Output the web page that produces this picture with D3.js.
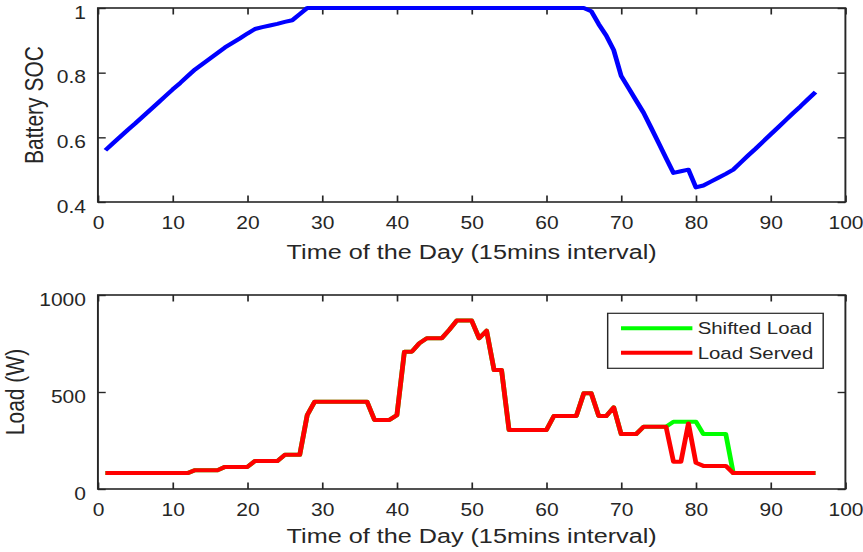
<!DOCTYPE html>
<html>
<head>
<meta charset="utf-8">
<script src="https://cdn.jsdelivr.net/npm/d3@7"></script>
<style>
  body { margin: 0; background: #fff; }
  svg { display: block; }
  text { font-family: "Liberation Sans", Arial, sans-serif; fill: #262626; }
</style>
</head>
<body>
<svg id="chart" width="863" height="552"></svg>
<script>
// time steps (15 min intervals)
let steps = d3.range(1, 97);

// 12 values per row
let soc = [
  0.56, 0.581, 0.602, 0.623, 0.643, 0.664, 0.685, 0.706, 0.727, 0.748, 0.768, 0.789,
  0.81, 0.827, 0.844, 0.861, 0.878, 0.892, 0.906, 0.921, 0.935, 0.941, 0.946, 0.951,
  0.957, 0.962, 0.981, 1, 1, 1, 1, 1, 1, 1, 1, 1,
  1, 1, 1, 1, 1, 1, 1, 1, 1, 1, 1, 1,
  1, 1, 1, 1, 1, 1, 1, 1, 1, 1, 1, 1,
  1, 1, 1, 1, 1, 0.99, 0.95, 0.915, 0.87, 0.79, 0.752, 0.714,
  0.676, 0.63, 0.583, 0.536, 0.49, 0.495, 0.50, 0.445, 0.451, 0.463, 0.475, 0.487,
  0.50, 0.522, 0.544, 0.565, 0.587, 0.609, 0.631, 0.653, 0.675, 0.696, 0.718, 0.74
];

let shiftedLoad = [
  82, 82, 82, 82, 82, 82, 82, 82, 82, 82, 82, 82,
  97, 97, 97, 97, 114, 114, 114, 114, 144, 144, 144, 144,
  176, 176, 176, 381, 450, 450, 450, 450, 450, 450, 450, 450,
  356, 356, 356, 381, 708, 708, 751, 777, 777, 777, 820, 868,
  868, 868, 777, 816, 613, 613, 304, 304, 304, 304, 304, 304,
  376, 376, 376, 376, 493, 493, 376, 376, 421, 283, 283, 283,
  321, 321, 321, 321, 347, 347, 347, 347, 283, 283, 283, 283,
  82, 82, 82, 82, 82, 82, 82, 82, 82, 82, 82, 82
];

let loadServed = [
  82, 82, 82, 82, 82, 82, 82, 82, 82, 82, 82, 82,
  97, 97, 97, 97, 114, 114, 114, 114, 144, 144, 144, 144,
  176, 176, 176, 381, 450, 450, 450, 450, 450, 450, 450, 450,
  356, 356, 356, 381, 708, 708, 751, 777, 777, 777, 820, 868,
  868, 868, 777, 816, 613, 613, 304, 304, 304, 304, 304, 304,
  376, 376, 376, 376, 493, 493, 376, 376, 421, 283, 283, 283,
  321, 321, 321, 321, 141, 141, 338, 135, 119, 119, 119, 119,
  82, 82, 82, 82, 82, 82, 82, 82, 82, 82, 82, 82
];

let xTicks = [0, 10, 20, 30, 40, 50, 60, 70, 80, 90, 100];
let socTicks = [0.4, 0.6, 0.8, 1];
let loadTicks = [0, 500, 1000];
let xLabel = "Time of the Day (15mins interval)";
let legendNames = ["Shifted Load", "Load Served"];

// the reference is stretched horizontally, so draw in a narrower space and stretch
let stretch = 1.2;
let W = 863, H = 552;
let svg = d3.select("#chart")
    .attr("viewBox", "0 0 " + (W / stretch) + " " + H)
    .attr("preserveAspectRatio", "none");

let axisColor = "#262626";
let x0 = 81.6, x1 = 704.5;

function drawPanel(top, bottom, yDomain, yTicks, yFormat, yLabel, yLabelX, xLabelOff) {
    let x = d3.scaleLinear().domain([0, 100]).range([x0, x1]);
    let y = d3.scaleLinear().domain(yDomain).range([bottom, top]);
    let g = svg.append("g");

    let tl = 6.5;
    let bAxis = g.append("g").attr("transform", "translate(0," + bottom + ")")
        .call(d3.axisBottom(x).tickValues(xTicks).tickSizeInner(-tl).tickSizeOuter(0));
    bAxis.selectAll("text").attr("y", 27).attr("dy", null).style("font-size", "17.5px");
    g.append("g").attr("transform", "translate(0," + top + ")")
        .call(d3.axisTop(x).tickValues(xTicks).tickSizeInner(-tl).tickSizeOuter(0).tickFormat(""));
    let lAxis = g.append("g").attr("transform", "translate(" + x0 + ",0)")
        .call(d3.axisLeft(y).tickValues(yTicks).tickSizeInner(-tl).tickSizeOuter(0).tickPadding(10).tickFormat(yFormat));
    lAxis.selectAll("text").attr("dy", "10px").style("font-size", "17.5px");
    g.append("g").attr("transform", "translate(" + x1 + ",0)")
        .call(d3.axisRight(y).tickValues(yTicks).tickSizeInner(-tl).tickSizeOuter(0).tickFormat(""));

    g.selectAll(".domain").remove();
    g.selectAll(".tick line").attr("stroke", axisColor).attr("stroke-width", 1.4);
    g.selectAll(".tick text").attr("fill", axisColor).style("font-family", null);

    g.append("rect")
        .attr("x", x0).attr("y", top)
        .attr("width", x1 - x0).attr("height", bottom - top)
        .attr("fill", "none")
        .attr("stroke", axisColor)
        .attr("stroke-width", 1.6);

    g.append("text")
        .attr("x", (x0 + x1) / 2)
        .attr("y", bottom + xLabelOff)
        .attr("text-anchor", "middle")
        .style("font-size", "21px")
        .text(xLabel);

    g.append("text")
        .attr("transform", "translate(" + yLabelX + "," + (top + bottom) / 2 + ") rotate(-90)")
        .attr("text-anchor", "middle")
        .style("font-size", "21px")
        .text(yLabel);

    return { g: g, x: x, y: y };
}

// top panel: battery state of charge
let p1 = drawPanel(8, 202, [0.4, 1], socTicks, d3.format("~g"), "Battery SOC", 36, 57);
p1.g.append("path")
    .datum(soc)
    .attr("fill", "none")
    .attr("stroke", "#0000ff")
    .attr("stroke-width", 4)
    .attr("stroke-linejoin", "round")
    .attr("d", d3.line().x((d, i) => p1.x(steps[i])).y(d => p1.y(d)));

// bottom panel: load
let p2 = drawPanel(295, 489, [0, 1000], loadTicks, d3.format("d"), "Load (W)", 20, 54);
let loadLine = d3.line().x((d, i) => p2.x(steps[i])).y(d => p2.y(d));
p2.g.append("path")
    .datum(shiftedLoad)
    .attr("fill", "none")
    .attr("stroke", "#00ff00")
    .attr("stroke-width", 4)
    .attr("stroke-linejoin", "round")
    .attr("d", loadLine);
p2.g.append("path")
    .datum(loadServed)
    .attr("fill", "none")
    .attr("stroke", "#ff0000")
    .attr("stroke-width", 4)
    .attr("stroke-linejoin", "round")
    .attr("d", loadLine);

// legend
let legendColors = ["#00ff00", "#ff0000"];
let lg = p2.g.append("g");
lg.append("rect")
    .attr("x", 506.4).attr("y", 313.3)
    .attr("width", 179.6).attr("height", 55)
    .attr("fill", "#fff")
    .attr("stroke", axisColor)
    .attr("stroke-width", 1.2);
legendNames.forEach(function (name, i) {
    let ly = 328.3 + i * 24.4;
    lg.append("line")
        .attr("x1", 517.5).attr("x2", 577)
        .attr("y1", ly).attr("y2", ly)
        .attr("stroke", legendColors[i])
        .attr("stroke-width", 4);
    lg.append("text")
        .attr("x", 581.4).attr("y", ly + 6)
        .style("font-size", "17px")
        .text(name);
});
</script>
</body>
</html>
